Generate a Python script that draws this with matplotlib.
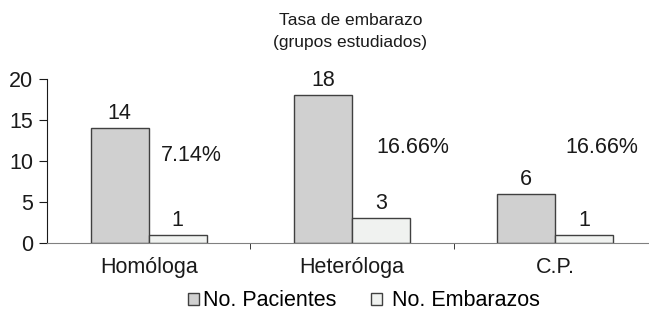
import matplotlib.pyplot as plt
import numpy as np

plt.rcParams['font.family'] = ['Liberation Sans', 'DejaVu Sans']

grupos = ['Homóloga', 'Heteróloga', 'C.P.']
pacientes = [14, 18, 6]
embarazos = [1, 3, 1]
porcentajes = ['7.14%', '16.66%', '16.66%']
pos_pct = [10.7, 11.6, 11.6]

fig = plt.figure(figsize=(6.49, 3.15), dpi=100)
ax = fig.add_axes([47 / 649, 72 / 315, 1 - 47 / 649, 164 / 315])

x = np.arange(len(grupos))
w = 0.286
fs = 15.5
b1 = ax.bar(x - w / 2, pacientes, w, color='#d0d0d0', edgecolor='#404040', linewidth=1, label='No. Pacientes')
b2 = ax.bar(x + w / 2, embarazos, w, color='#f0f2f0', edgecolor='#404040', linewidth=1, label=' No. Embarazos')

for i in range(len(grupos)):
    ax.text(x[i] - w / 2, pacientes[i] + 0.5, str(pacientes[i]), ha='center', va='bottom', fontsize=fs, color='#1a1a1a')
    ax.text(x[i] + w / 2, embarazos[i] + 0.5, str(embarazos[i]), ha='center', va='bottom', fontsize=fs, color='#1a1a1a')
    ax.text(x[i] + [0.21, 0.3, 0.23][i], pos_pct[i], porcentajes[i], ha='center', va='center', fontsize=fs, color='#1a1a1a')

ax.set_ylim(0, 20)
ax.set_yticks([0, 5, 10, 15, 20])
ax.set_xlim(-0.5, 2.5 - 8 / 203)
ax.set_xticks(x)
ax.set_xticklabels(grupos)
ax.set_xticks([0.5, 1.5], minor=True)
ax.tick_params(axis='x', which='major', length=0, pad=10, labelsize=fs, colors='#1a1a1a')
ax.tick_params(axis='x', which='minor', length=4, color='#1a1a1a')
ax.tick_params(axis='y', length=6, pad=4, labelsize=fs, colors='#1a1a1a')

ax.spines['top'].set_visible(False)
ax.spines['right'].set_visible(False)
ax.spines['bottom'].set_color('#808080')
ax.spines['left'].set_color('#1a1a1a')

fig.text(0.54, 0.9, 'Tasa de embarazo\n(grupos estudiados)', ha='center', va='center', fontsize=12.5, color='#1a1a1a', linespacing=1.65)

fig.legend(handles=[b1, b2], loc='center', bbox_to_anchor=(0.561, 0.045), ncol=2, frameon=False,
           fontsize=fs, handlelength=0.5, handleheight=0.5, handletextpad=0.2, columnspacing=1.6)

fig.savefig('out.png', dpi=100)
